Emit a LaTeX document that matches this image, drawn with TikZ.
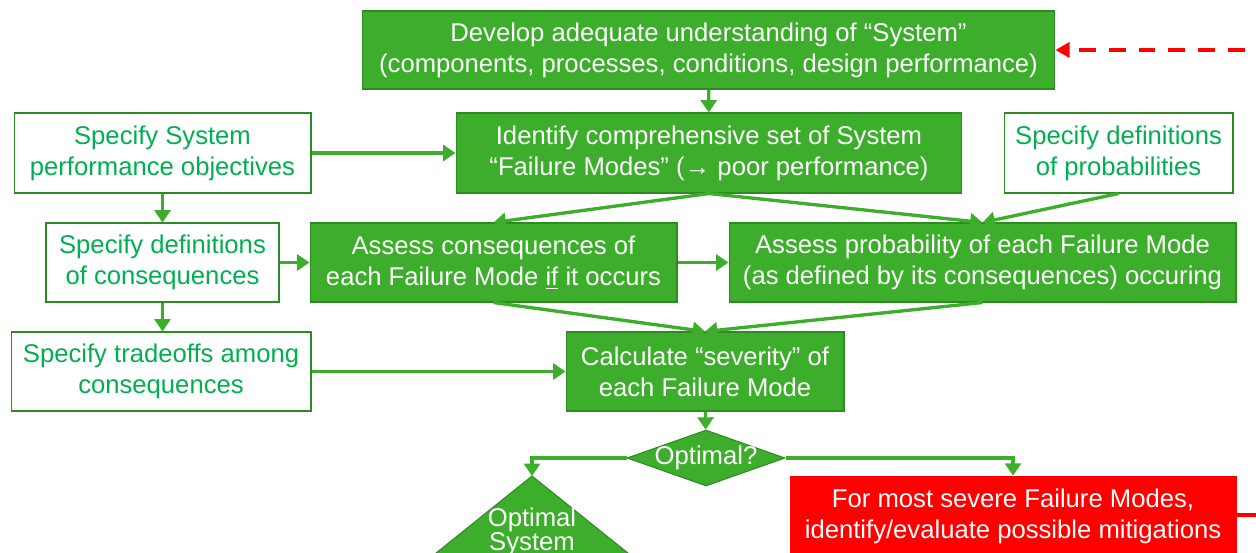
\documentclass[tikz,border=0pt]{standalone}
\usepackage{fontspec}
\setmainfont{Liberation Sans}
\usetikzlibrary{arrows.meta,shapes.geometric}

\definecolor{flowgreen}{HTML}{3DAE2B}
\definecolor{edgegreen}{HTML}{2E8B22}
\definecolor{textgreen}{HTML}{00B050}
\definecolor{alertred}{HTML}{FF0000}

\tikzset{
  solid box/.style={draw=edgegreen, line width=0.6pt, fill=flowgreen, text=white,
    align=center, inner sep=0pt},
  open box/.style={draw=edgegreen, line width=0.6pt, fill=white, text=textgreen,
    align=center, inner sep=0pt},
  flow/.style={draw=flowgreen, line width=1.9pt, -{Triangle[width=9pt,length=7pt]}},
}

\begin{document}
\begin{tikzpicture}[x=0.02cm, y=-0.02cm,
    every node/.style={font=\fontsize{14.6}{17.8}\selectfont}]
  \useasboundingbox (0,0) rectangle (1256,552);
  \clip (0,0) rectangle (1256,552);

  % top row
  \node[solid box, minimum width=13.86cm, minimum height=1.56cm] (dev) at (708.5,50)
    {Develop adequate understanding of “System”\\(components, processes, conditions, design performance)};
  \node[open box, minimum width=5.94cm, minimum height=1.6cm] (perf) at (162.5,153)
    {Specify System\\performance objectives};
  \node[solid box, minimum width=10.12cm, minimum height=1.6cm] (ident) at (709,153)
    {Identify comprehensive set of System\\“Failure Modes” (→ poor performance)};
  \node[open box, minimum width=4.58cm, minimum height=1.6cm] (defprob) at (1118.5,153)
    {Specify definitions\\of probabilities};

  % middle row
  \node[open box, minimum width=4.66cm, minimum height=1.58cm] (defcons) at (162.5,262.5)
    {Specify definitions\\of consequences};
  \node[solid box, minimum width=7.34cm, minimum height=1.58cm] (acons) at (493.5,262.5)
    {Assess consequences of\\each Failure Mode \underline{if} it occurs};
  \node[solid box, minimum width=10.14cm, minimum height=1.58cm] (aprob) at (982.5,262.5)
    {Assess probability of each Failure Mode\\(as defined by its consequences) occuring};

  \node[open box, minimum width=6.0cm, minimum height=1.58cm] (trade) at (161,371.5)
    {Specify tradeoffs among\\consequences};
  \node[solid box, minimum width=5.56cm, minimum height=1.58cm] (calc) at (705,371.5)
    {Calculate “severity” of\\each Failure Mode};

  % decision
  \node[diamond, draw=edgegreen, line width=0.6pt, fill=flowgreen, text=white,
    inner sep=-2pt, aspect=2.8, minimum width=3.16cm, minimum height=1.12cm] (opt) at (706,458) {Optimal?};

  \coordinate (apex) at (532,476);
  \fill[flowgreen, draw=edgegreen, line width=0.6pt] (apex) -- (400,582) -- (664,582) -- cycle;
  \node[text=white, align=center, font=\fontsize{14.6}{14}\selectfont] (optsys) at (532,532)
    {Optimal\\System};

  \node[draw=alertred, fill=alertred, text=white, align=center, inner sep=0pt,
    minimum width=8.92cm, minimum height=1.6cm] (mitig) at (1013,516)
    {For most severe Failure Modes,\\identify/evaluate possible mitigations};

  \coordinate (back) at (1256,515);
  \coordinate (loop) at (1245,50);

  % connectors
  \draw[flow] (dev) -- (ident);
  \draw[flow] (perf) -- (ident);
  \draw[flow] (perf) -- (defcons);
  \draw[flow] (defcons.south) -- (defcons.south |- trade.north);
  \draw[flow] (defcons) -- (acons);
  \draw[flow] (acons) -- (aprob);
  \draw[flow] (trade) -- (calc);
  \draw[flow] (ident.south) -- (acons.north);
  \draw[flow] (ident.south) -- (aprob.north);
  \draw[flow] (defprob.south) -- (aprob.north);
  \draw[flow] (acons.south) -- (calc.north);
  \draw[flow] (aprob.south) -- (calc.north);
  \draw[flow] (calc) -- (opt);
  \draw[flow] (opt.west) -| (apex);
  \draw[flow] (opt.east) -| (mitig.north);

  % loop back for the next pass
  \draw[alertred, line width=1.9pt] (mitig.east |- back) -- (back);
  \draw[alertred, line width=2.8pt, dash pattern=on 9.6pt off 7.4pt,
    -{Triangle[width=8.5pt,length=8pt]}] (loop) -- (dev.east);
\end{tikzpicture}
\end{document}
